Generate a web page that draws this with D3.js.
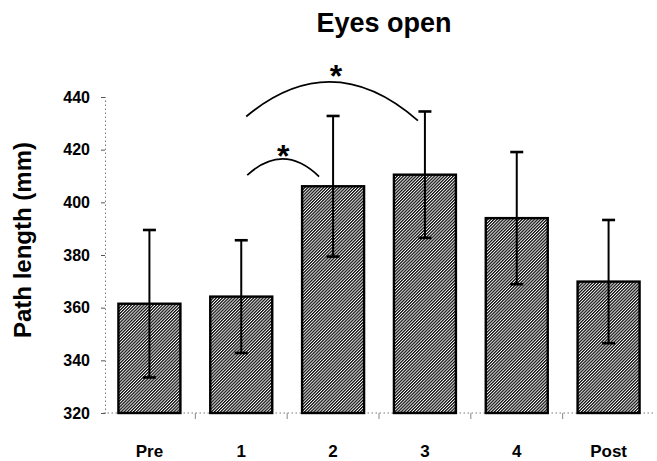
<!DOCTYPE html>
<html>
<head>
<meta charset="utf-8">
<script src="https://cdn.jsdelivr.net/npm/d3@7"></script>
<style>
  html, body { margin: 0; padding: 0; background: #fff; }
  svg { display: block; }
  text { font-family: Arial, "Liberation Sans", Helvetica, sans-serif; font-weight: bold; fill: #000; }
</style>
</head>
<body>
<svg id="chart" width="657" height="461"></svg>
<script>
// Session labels, mean path length and standard deviation (mm)
const sessions = ["Pre", "1", "2", "3", "4", "Post"];
const means = [361.5, 364.2, 406.1, 410.5, 394.0, 369.9];
const errors = [28.0, 21.4, 26.7, 24.0, 25.1, 23.4];
const yTicks = [320, 340, 360, 380, 400, 420, 440];

// Significance brackets: from session -> to session, arc end offsets, heights (mm), star offset
const brackets = [
  { from: "1", to: "2", dx0: 6, dx1: -14, y0: 410.3, y1: 409.8, peak: 416.5, starDx: 0, starDy: 8.5 },
  { from: "1", to: "3", dx0: 5, dx1: -7, y0: 432.6, y1: 431.0, peak: 445.7, starDx: 4, starDy: 5.5 }
];

const svg = d3.select("#chart");
const margin = { left: 103.5, right: 2.5, top: 97, bottom: 48 };
const W = 657, H = 461;

const x = d3.scaleBand()
  .domain(sessions)
  .range([margin.left, W - margin.right])
  .paddingInner(0.325)
  .paddingOuter(0.1625);

const y = d3.scaleLinear()
  .domain([320, 440])
  .range([H - margin.bottom, margin.top]);

// Fine diagonal hatch fill
const defs = svg.append("defs");
const P = 2.2;
const pat = defs.append("pattern")
  .attr("id", "hatch")
  .attr("patternUnits", "userSpaceOnUse")
  .attr("width", P)
  .attr("height", P)
  .attr("patternTransform", "rotate(45)");
pat.append("rect").attr("width", P).attr("height", P).attr("fill", "#fff");
pat.append("rect").attr("x", 0).attr("width", 1.3).attr("height", P).attr("fill", "#111");

// Title
svg.append("text")
  .attr("x", 384)
  .attr("y", 32)
  .attr("text-anchor", "middle")
  .style("font-size", "27px")
  .text("Eyes open");

// Y-axis title
svg.append("text")
  .attr("transform", `translate(30.5, 240) rotate(-90)`)
  .attr("text-anchor", "middle")
  .style("font-size", "24px")
  .text("Path length (mm)");

// Y axis: faint dotted spine, short ticks, bold labels
const yAxis = d3.axisLeft(y).tickValues(yTicks).tickSize(4).tickPadding(11);
const gy = svg.append("g")
  .attr("transform", `translate(${margin.left + 1.5},0)`)
  .call(yAxis);
gy.select(".domain").attr("stroke", "#777").attr("stroke-dasharray", "1.5,2.5").attr("stroke-width", 1);
gy.selectAll(".tick line").attr("stroke", "#555");
gy.selectAll(".tick text")
  .style("font-size", "16px")
  .style("font-weight", "bold")
  .style("font-family", "Arial, 'Liberation Sans', sans-serif");

// X axis: dotted baseline with ticks at category boundaries
const baseY = y(320);
svg.append("line")
  .attr("x1", margin.left).attr("x2", W - margin.right)
  .attr("y1", baseY).attr("y2", baseY)
  .attr("stroke", "#777").attr("stroke-dasharray", "1.5,2.5");
const bounds = sessions.slice(1).map(s => x(s) - x.step() * x.paddingInner() / 2);
svg.selectAll(".xtick").data(bounds).enter().append("line")
  .attr("x1", d => d).attr("x2", d => d)
  .attr("y1", baseY).attr("y2", baseY + 6)
  .attr("stroke", "#888").attr("stroke-width", 1);

svg.selectAll(".xlab").data(sessions).enter().append("text")
  .attr("x", d => x(d) + x.bandwidth() / 2)
  .attr("y", 457)
  .attr("text-anchor", "middle")
  .style("font-size", "17px")
  .text(d => d);

// Bars
const data = sessions.map((s, i) => ({ s, m: means[i], e: errors[i] }));
svg.selectAll(".bar").data(data).enter().append("rect")
  .attr("x", d => x(d.s))
  .attr("y", d => y(d.m))
  .attr("width", x.bandwidth())
  .attr("height", d => y(320) - y(d.m))
  .attr("fill", "url(#hatch)")
  .attr("stroke", "#000")
  .attr("stroke-width", 2.4);

// Error bars
const cap = 6.5;
const eg = svg.selectAll(".err").data(data).enter().append("g")
  .attr("stroke", "#000");
eg.append("line")
  .attr("x1", d => x(d.s) + x.bandwidth() / 2)
  .attr("x2", d => x(d.s) + x.bandwidth() / 2)
  .attr("y1", d => y(d.m + d.e))
  .attr("y2", d => y(d.m - d.e))
  .attr("stroke-width", 2);
eg.append("line")
  .attr("x1", d => x(d.s) + x.bandwidth() / 2 - cap)
  .attr("x2", d => x(d.s) + x.bandwidth() / 2 + cap)
  .attr("y1", d => y(d.m + d.e))
  .attr("y2", d => y(d.m + d.e))
  .attr("stroke-width", 2.6);
eg.append("line")
  .attr("x1", d => x(d.s) + x.bandwidth() / 2 - cap)
  .attr("x2", d => x(d.s) + x.bandwidth() / 2 + cap)
  .attr("y1", d => y(d.m - d.e))
  .attr("y2", d => y(d.m - d.e))
  .attr("stroke-width", 2.6);

// Significance arcs with asterisks
brackets.forEach(b => {
  const cx0 = x(b.from) + x.bandwidth() / 2 + b.dx0;
  const cx1 = x(b.to) + x.bandwidth() / 2 + b.dx1;
  const p0 = [cx0, y(b.y0)], p1 = [cx1, y(b.y1)];
  const mx = (cx0 + cx1) / 2;
  const py = y(b.peak);
  // quadratic control point so that the curve's apex sits at py
  const cy = 2 * py - (p0[1] + p1[1]) / 2;
  const path = d3.path();
  path.moveTo(p0[0], p0[1]);
  path.quadraticCurveTo(mx, cy, p1[0], p1[1]);
  svg.append("path")
    .attr("d", path.toString())
    .attr("fill", "none")
    .attr("stroke", "#000")
    .attr("stroke-width", 1.7);
  svg.append("text")
    .attr("x", mx + b.starDx)
    .attr("y", py + b.starDy)
    .attr("text-anchor", "middle")
    .style("font-size", "32px")
    .text("*");
});
</script>
</body>
</html>
